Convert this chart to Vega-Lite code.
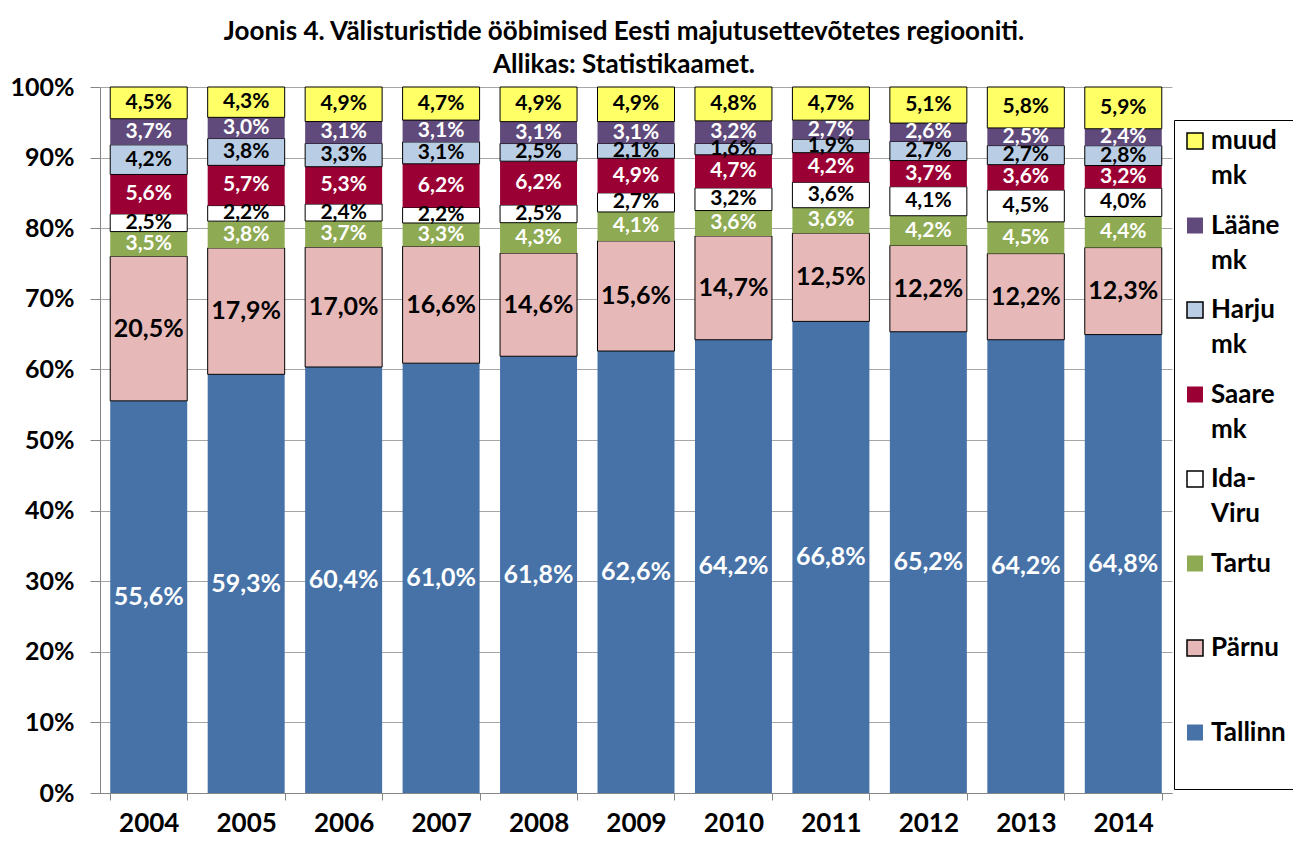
{
  "$schema": "https://vega.github.io/schema/vega-lite/v6.json",
  "width": 1072,
  "height": 706,
  "autosize": {"type": "none"},
  "padding": {"left": 100, "top": 87, "right": 121, "bottom": 48},
  "background": "white",
  "title": {
    "text": ["Joonis 4. Välisturistide ööbimised Eesti majutusettevõtetes regiooniti.", "Allikas: Statistikaamet."],
    "font": "Lato", "fontSize": 26, "fontWeight": "bold", "lineHeight": 33,
    "anchor": "middle", "dx": -12, "offset": -3, "color": "black"
  },
  "data": {"values": [
    {"year": "2004", "Tallinn": 0.556, "Pärnu": 0.205, "Tartu": 0.035, "Ida-Viru": 0.025, "Saare mk": 0.056, "Harju mk": 0.042, "Lääne mk": 0.037, "muud mk": 0.045},
    {"year": "2005", "Tallinn": 0.593, "Pärnu": 0.179, "Tartu": 0.038, "Ida-Viru": 0.022, "Saare mk": 0.057, "Harju mk": 0.038, "Lääne mk": 0.030, "muud mk": 0.043},
    {"year": "2006", "Tallinn": 0.604, "Pärnu": 0.170, "Tartu": 0.037, "Ida-Viru": 0.024, "Saare mk": 0.053, "Harju mk": 0.033, "Lääne mk": 0.031, "muud mk": 0.049},
    {"year": "2007", "Tallinn": 0.610, "Pärnu": 0.166, "Tartu": 0.033, "Ida-Viru": 0.022, "Saare mk": 0.062, "Harju mk": 0.031, "Lääne mk": 0.031, "muud mk": 0.047},
    {"year": "2008", "Tallinn": 0.618, "Pärnu": 0.146, "Tartu": 0.043, "Ida-Viru": 0.025, "Saare mk": 0.062, "Harju mk": 0.025, "Lääne mk": 0.031, "muud mk": 0.049},
    {"year": "2009", "Tallinn": 0.626, "Pärnu": 0.156, "Tartu": 0.041, "Ida-Viru": 0.027, "Saare mk": 0.049, "Harju mk": 0.021, "Lääne mk": 0.031, "muud mk": 0.049},
    {"year": "2010", "Tallinn": 0.642, "Pärnu": 0.147, "Tartu": 0.036, "Ida-Viru": 0.032, "Saare mk": 0.047, "Harju mk": 0.016, "Lääne mk": 0.032, "muud mk": 0.048},
    {"year": "2011", "Tallinn": 0.668, "Pärnu": 0.125, "Tartu": 0.036, "Ida-Viru": 0.036, "Saare mk": 0.042, "Harju mk": 0.019, "Lääne mk": 0.027, "muud mk": 0.047},
    {"year": "2012", "Tallinn": 0.652, "Pärnu": 0.122, "Tartu": 0.042, "Ida-Viru": 0.041, "Saare mk": 0.037, "Harju mk": 0.027, "Lääne mk": 0.026, "muud mk": 0.051},
    {"year": "2013", "Tallinn": 0.642, "Pärnu": 0.122, "Tartu": 0.045, "Ida-Viru": 0.045, "Saare mk": 0.036, "Harju mk": 0.027, "Lääne mk": 0.025, "muud mk": 0.058},
    {"year": "2014", "Tallinn": 0.648, "Pärnu": 0.123, "Tartu": 0.044, "Ida-Viru": 0.040, "Saare mk": 0.032, "Harju mk": 0.028, "Lääne mk": 0.024, "muud mk": 0.059}
  ]},
  "transform": [
    {"fold": ["Tallinn", "Pärnu", "Tartu", "Ida-Viru", "Saare mk", "Harju mk", "Lääne mk", "muud mk"], "as": ["region", "v"]},
    {"stack": "v", "groupby": ["year"], "offset": "normalize", "as": ["lo", "hi"]}
  ],
  "encoding": {
    "x": {
      "field": "year", "type": "ordinal",
      "scale": {"paddingInner": 0.21, "paddingOuter": 0.105},
      "axis": {
        "title": null, "labelAngle": 0, "tickBand": "extent", "tickSize": 7, "labelPadding": 10,
        "labelFontSize": 26, "labelFont": "Lato", "labelFontWeight": "bold", "labelColor": "black",
        "domainColor": "#868686", "tickColor": "#868686", "grid": false
      }
    }
  },
  "layer": [
    {
      "mark": {"type": "bar", "strokeWidth": 1},
      "encoding": {
        "y": {
          "field": "lo", "type": "quantitative", "scale": {"domain": [0, 1]},
          "axis": {
            "title": null, "format": ".0%", "values": [0, 0.1, 0.2, 0.3, 0.4, 0.5, 0.6, 0.7, 0.8, 0.9, 1],
            "tickSize": 10, "labelPadding": 16, "labelFontSize": 25, "labelFont": "Lato", "labelFontWeight": "bold",
            "labelColor": "black", "domainColor": "#868686", "tickColor": "#868686", "gridColor": "#A6A6A6", "grid": true
          }
        },
        "y2": {"field": "hi"},
        "color": {
          "field": "region", "type": "nominal",
          "scale": {
            "domain": ["muud mk", "Lääne mk", "Harju mk", "Saare mk", "Ida-Viru", "Tartu", "Pärnu", "Tallinn"],
            "range": ["#FFFF66", "#604A7B", "#B9CDE5", "#9B0034", "#FFFFFF", "#8EAA52", "#E6B9B8", "#4672A8"]
          },
          "legend": {
            "title": null, "orient": "none", "legendX": 1074, "legendY": 33,
            "symbolType": "square", "symbolSize": 256, "symbolStrokeWidth": 1.5,
            "labelFont": "Lato", "labelFontSize": 26, "labelFontWeight": "bold", "labelColor": "black",
            "labelOffset": 3, "labelLimit": 200,
            "labelExpr": "datum.label == 'Ida-Viru' ? ['Ida-', 'Viru'] : (indexof(datum.label, ' ') > 0 ? split(datum.label, ' ') : [datum.label, ''])",
            "rowPadding": 23.5, "padding": 8, "strokeColor": "black", "fillColor": "white", "symbolOpacity": 1
          }
        },
        "stroke": {
          "field": "region", "type": "nominal",
          "scale": {
            "domain": ["muud mk", "Lääne mk", "Harju mk", "Saare mk", "Ida-Viru", "Tartu", "Pärnu", "Tallinn"],
            "range": ["#000000", "transparent", "#000000", "transparent", "#000000", "transparent", "#000000", "transparent"]
          },
          "legend": {
            "title": null, "orient": "none", "legendX": 1074, "legendY": 33,
            "symbolType": "square", "symbolSize": 256, "symbolStrokeWidth": 1.5,
            "labelFont": "Lato", "labelFontSize": 26, "labelFontWeight": "bold", "labelColor": "black",
            "labelOffset": 3, "labelLimit": 200,
            "labelExpr": "datum.label == 'Ida-Viru' ? ['Ida-', 'Viru'] : (indexof(datum.label, ' ') > 0 ? split(datum.label, ' ') : [datum.label, ''])",
            "rowPadding": 23.5, "padding": 8, "strokeColor": "black", "fillColor": "white", "symbolOpacity": 1
          }
        }
      }
    },
    {
      "transform": [{"fold": ["lo", "hi"], "as": ["k", "pos"]}],
      "mark": {"type": "text", "font": "Lato", "fontWeight": "bold", "baseline": "middle"},
      "encoding": {
        "y": {"field": "pos", "aggregate": "mean", "type": "quantitative", "axis": {"title": null}},
        "detail": {"field": "region"},
        "text": {"field": "v", "type": "quantitative", "format": ".1%"},
        "color": {
          "condition": {"test": "datum.region == 'Tallinn' || datum.region == 'Tartu' || datum.region == 'Saare mk' || datum.region == 'Lääne mk'", "value": "white"},
          "value": "black"
        },
        "size": {
          "condition": {"test": "datum.region == 'Tallinn' || datum.region == 'Pärnu'", "value": 25},
          "value": 21
        }
      }
    }
  ],
  "config": {
    "locale": {"number": {"decimal": ",", "thousands": " ", "grouping": [3], "currency": ["", " €"]}},
    "font": "Lato",
    "view": {"stroke": null},
    "style": {"guide-label": {"lineHeight": 35}}
  }
}
